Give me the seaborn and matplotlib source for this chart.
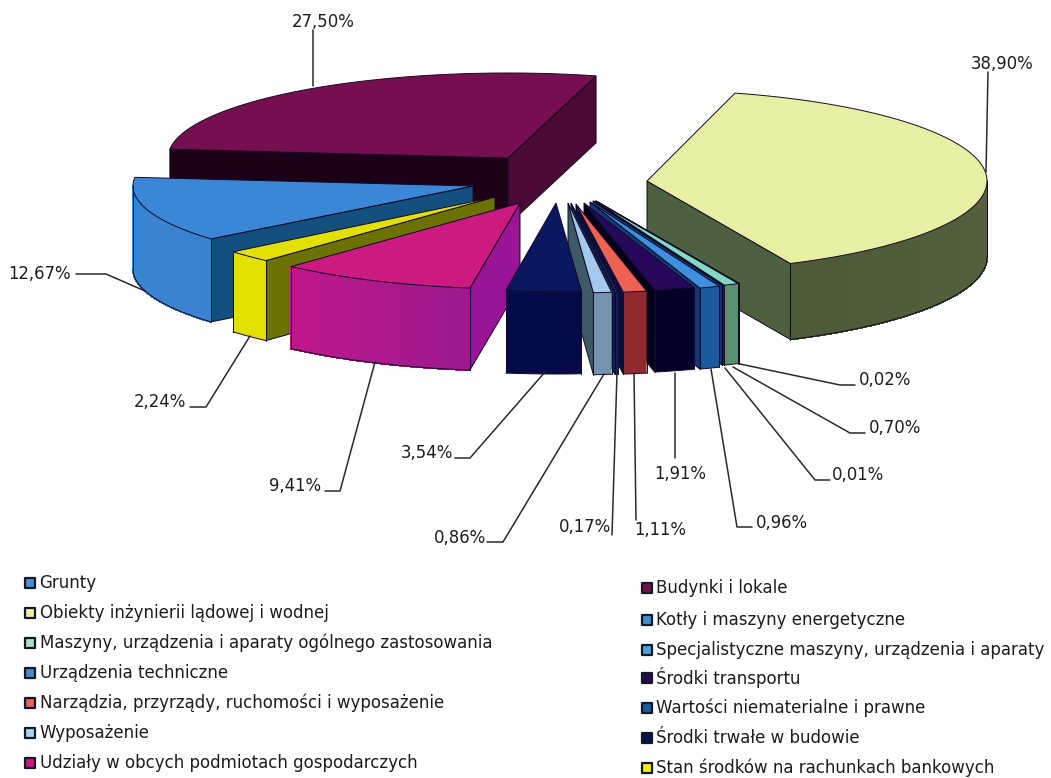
import numpy as np
import pandas as pd
import seaborn as sns
import matplotlib.pyplot as plt

# values in legend order, clockwise around the pie
categories = ['Grunty', 'Budynki i lokale', 'Obiekty inżynierii lądowej i wodnej',
              'Kotły i maszyny energetyczne', 'Maszyny, urządzenia i aparaty ogólnego zastosowania',
              'Specjalistyczne maszyny, urządzenia i aparaty', 'Urządzenia techniczne',
              'Środki transportu', 'Narządzia, przyrządy, ruchomości i wyposażenie',
              'Wartości niematerialne i prawne', 'Wyposażenie', 'Środki trwałe w budowie',
              'Udziały w obcych podmiotach gospodarczych', 'Stan środków na rachunkach bankowych']
values = [12.67, 27.50, 38.90, 0.02, 0.70, 0.01, 0.96, 1.91, 1.11, 0.17, 0.86, 3.54, 9.41, 2.24]
value_labels = ['12,67%', '27,50%', '38,90%', '0,02%', '0,70%', '0,01%', '0,96%',
                '1,91%', '1,11%', '0,17%', '0,86%', '3,54%', '9,41%', '2,24%']

legend_left = ['Grunty', 'Obiekty inżynierii lądowej i wodnej',
               'Maszyny, urządzenia i aparaty ogólnego zastosowania', 'Urządzenia techniczne',
               'Narządzia, przyrządy, ruchomości i wyposażenie', 'Wyposażenie',
               'Udziały w obcych podmiotach gospodarczych']
legend_right = ['Budynki i lokale', 'Kotły i maszyny energetyczne',
                'Specjalistyczne maszyny, urządzenia i aparaty', 'Środki transportu',
                'Wartości niematerialne i prawne', 'Środki trwałe w budowie',
                'Stan środków na rachunkach bankowych']

# layout of the fake 3d pie (pixels)
cx, cy = 555, 190
rx = 340
start_angle = 140.4  # where Grunty starts, degrees clockwise from the right
ry = [83, 85, 91, 91, 91, 91, 91, 89, 89, 90, 90, 88, 86, 86]
explode_x = [-82, -47, 92, 41, 40, 38, 35, 29, 21, 16, 13, 1, -35, -60]
explode_y = [-4, -32, -9, 11, 11, 11, 12, 13, 14, 13, 13, 13, 13, 7]
depth = [83, 67, 76, 80, 80, 80, 81, 82, 82, 82, 82, 83, 82, 80]

# top, rim start, rim end, side wall
top_col = ['#3b86d6', '#760e50', '#e9efa2', '#4090d0', '#84d8c6', '#50a0d8', '#3f8fe0',
           '#26085c', '#ef6152', '#15205a', '#a5c8ee', '#0c1762', '#cb1a82', '#e3e000']
rim_a = ['#3a82d0', '#4a0a33', '#56623f', '#2a6a80', '#5a9072', '#2a6a80', '#1b5a9c',
         '#04022a', '#8e2a30', '#10205c', '#7593ae', '#050a48', '#9c1a90', '#e2e000']
rim_b = ['#3a86d4', '#4a0a33', '#4c5a38', '#2a6a80', '#5a9072', '#2a6a80', '#1b5a9c',
         '#04022a', '#8e2a30', '#10205c', '#7593ae', '#050a48', '#c0178a', '#e2e000']
side_col = ['#14507d', '#1c0018', '#4d6040', '#0a3a30', '#0a3a30', '#103a78', '#103a78',
            '#02021a', '#0a0f40', '#10205c', '#3e5a66', '#050a48', '#9a1496', '#6c7100']
side_right_col = '#4a0a33'  # Budynki has a second wall showing
edge = '#120a25'

legend_cols = {'Grunty': '#4a8ed0', 'Obiekty inżynierii lądowej i wodnej': '#f0f0a0',
               'Maszyny, urządzenia i aparaty ogólnego zastosowania': '#a8e0c0',
               'Urządzenia techniczne': '#4a88c8',
               'Narządzia, przyrządy, ruchomości i wyposażenie': '#e86060',
               'Wyposażenie': '#a8d0f0', 'Udziały w obcych podmiotach gospodarczych': '#d01880',
               'Budynki i lokale': '#7a1048', 'Kotły i maszyny energetyczne': '#4090d0',
               'Specjalistyczne maszyny, urządzenia i aparaty': '#50a0d8',
               'Środki transportu': '#2a0850', 'Wartości niematerialne i prawne': '#1a5aa0',
               'Środki trwałe w budowie': '#0a1050',
               'Stan środków na rachunkach bankowych': '#f0f000'}

# label centre x, y then the leader line points
label_pos = [(40, 274), (323, 22), (1002, 64), (885, 380), (895, 428), (858, 475), (782, 523),
             (680, 474), (660, 530), (585, 527), (460, 538), (427, 453), (295, 486), (160, 402)]
leaders = [[(76, 274), (106, 274), (145, 291)],
           [(313, 30), (313, 86)],
           [(988, 72), (986, 172)],
           [(855, 385), (840, 385), (740, 364)],
           [(865, 433), (850, 433), (733, 367)],
           [(830, 480), (815, 480), (725, 368)],
           [(752, 527), (737, 527), (711, 369)],
           [(675, 458), (675, 373)],
           [(636, 520), (634, 373)],
           [(612, 535), (617, 373)],
           [(487, 542), (503, 542), (604, 374)],
           [(455, 458), (470, 458), (545, 372)],
           [(325, 491), (340, 491), (375, 362)],
           [(190, 407), (206, 407), (250, 336)]]

sns.set_theme(style='white')
plt.rcParams['font.family'] = ['DejaVu Sans']
fig = plt.figure(figsize=(10.51, 7.78), dpi=100, facecolor='#fefefe')
ax = fig.add_axes([0, 0, 1, 1])
ax.set_xlim(0, 1051)
ax.set_ylim(778, 0)
ax.axis('off')


def rim(i, t):
    x0 = cx + explode_x[i]
    y0 = cy + explode_y[i]
    return x0 + rx * np.cos(np.radians(t)), y0 + ry[i] * np.sin(np.radians(t))


def mix(c1, c2, f):
    a = np.array(sns.desaturate(c1, 1))
    b = np.array(sns.desaturate(c2, 1))
    return tuple(a + (b - a) * f)


def draw_slice(i, t0, t1):
    x0 = cx + explode_x[i]
    y0 = cy + explode_y[i]
    d = depth[i]
    lw = 0.7

    # radial walls
    if np.cos(np.radians(t0)) < 0:
        x, y = rim(i, t0)
        ax.fill([x0, x, x, x0], [y0, y, y + d, y0 + d], color=side_col[i], ec=edge, lw=lw)
    if np.cos(np.radians(t1)) > 0:
        x, y = rim(i, t1)
        c = side_right_col if i == 1 else side_col[i]
        ax.fill([x0, x, x, x0], [y0, y, y + d, y0 + d], color=c, ec=edge, lw=lw)

    # outer wall, only the front half of the ellipse shows
    for lo, hi in [(t0, t1), (t0 - 360, t1 - 360)]:
        a, b = max(lo, 0), min(hi, 180)
        if b <= a:
            continue
        ts = np.linspace(a, b, max(2, int((b - a) * 2)))
        xs, ys = rim(i, ts)
        if rim_a[i] == rim_b[i]:
            ax.fill(np.r_[xs, xs[::-1]], np.r_[ys, ys[::-1] + d], color=rim_a[i], lw=0)
        else:
            for j in range(len(ts) - 1):
                c = mix(rim_a[i], rim_b[i], j / max(1, len(ts) - 2))
                ax.fill([xs[j], xs[j + 1], xs[j + 1], xs[j]],
                        [ys[j], ys[j + 1], ys[j + 1] + d, ys[j] + d],
                        color=c, ec=c, lw=0.8, antialiased=False)
        ax.plot(xs, ys + d, color=edge, lw=lw)
        ax.plot([xs[0], xs[0]], [ys[0], ys[0] + d], color=edge, lw=lw)
        ax.plot([xs[-1], xs[-1]], [ys[-1], ys[-1] + d], color=edge, lw=lw)

    # top face
    ts = np.linspace(t0, t1, max(2, int((t1 - t0) * 2)))
    xs, ys = rim(i, ts)
    ax.fill(np.r_[x0, xs], np.r_[y0, ys], color=top_col[i], ec=edge, lw=lw)


angles = start_angle + np.cumsum([0] + [v * 3.6 for v in values])

# back slices first, then the left ones, then the thin ones from the right towards the front
order = [1, 2, 0, 13, 12, 3, 4, 5, 6, 7, 8, 9, 10, 11]
for i in order:
    draw_slice(i, angles[i], angles[i + 1])

for i in range(len(values)):
    pts = np.array(leaders[i])
    ax.plot(pts[:, 0], pts[:, 1], color='#2a2a2a', lw=1.1, zorder=1)
    ax.text(label_pos[i][0], label_pos[i][1], value_labels[i], ha='center', va='center',
            fontsize=11.9, color='#1c1c1c')

# legend
rows_left = [583, 613, 643, 673, 703, 733, 763]
rows_right = [588, 620, 650, 678, 708, 738, 768]
leg = pd.DataFrame({
    'name': legend_left + legend_right,
    'x': [30] * 7 + [647] * 7,
    'y': rows_left + rows_right,
})
sns.scatterplot(data=leg, x='x', y='y', hue='name', palette=legend_cols, marker='s', s=55,
                edgecolor='#101828', linewidth=1.6, legend=False, ax=ax, zorder=3)
ax.set_xlim(0, 1051)
ax.set_ylim(778, 0)
ax.axis('off')
for row in leg.itertuples():
    ax.text(row.x + 9.5, row.y, row.name, ha='left', va='center', fontsize=12, color='#1c1c1c')

fig.savefig('out.png', dpi=100, facecolor=fig.get_facecolor())
